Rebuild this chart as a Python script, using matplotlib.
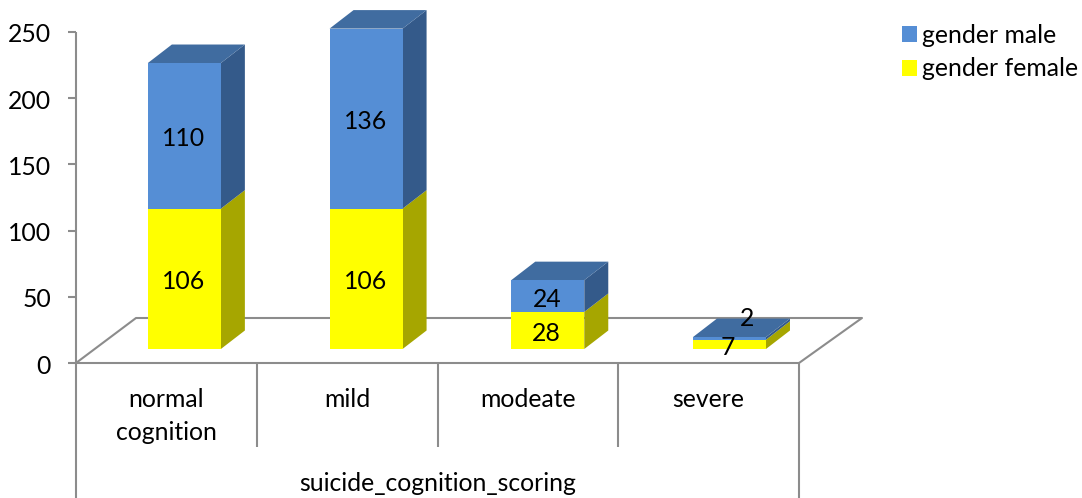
import matplotlib
matplotlib.use('Agg')
import matplotlib.pyplot as plt
from matplotlib.patches import Polygon, Patch

plt.rcParams['font.family'] = ['Lato', 'DejaVu Sans']

# data
categories = ['normal\ncognition', 'mild', 'modeate', 'severe']
female = [106, 106, 28, 7]
male = [110, 136, 24, 2]
yticks = [0, 50, 100, 150, 200, 250]
axis_title = 'suicide_cognition_scoring'

# colours
BLUE, BLUE_TOP, BLUE_SIDE = '#558ed5', '#406ca0', '#345a8a'
YELLOW, YELLOW_SIDE = '#ffff00', '#a6a600'
GREY = '#8c8c8c'
FS = 17.8

W, H = 1082, 498
fig = plt.figure(figsize=(W / 100, H / 100), dpi=100)
# axes box: x 76-799 px, y 32-363 px
ax = fig.add_axes([76 / W, (H - 363) / H, 723 / W, 331 / H])
ax.set_xlim(-0.5, 3.5)
ax.set_ylim(0, 250)
ax.axis('off')

# pixels to data units
ux = 4 / 723
uy = 250 / 331
lift = 14 * uy            # bars stand a bit in front of the floor edge
depth_x = 24 * ux
depth_y = 18.5 * uy
bar_w = 73 * ux
shift = 18 * ux
spacing = 181.7 * ux


def line(xs, ys, **kw):
    ax.plot(xs, ys, color=GREY, lw=1.5, clip_on=False, solid_capstyle='butt', **kw)


# floor
fx0, fx1 = -0.5 + 60 * ux, 3.5 + 63 * ux
fy = 45 * uy
line([-0.5, fx0, fx1, 3.5], [0, fy, fy, 0], zorder=1)
line([-0.5, 3.5], [0, 0], zorder=1)

# y axis
line([-0.5, -0.5], [0, 250], zorder=1)
for t in yticks:
    line([-0.5 - 8 * ux, -0.5], [t, t], zorder=1)
    ax.text(-0.5 - 25 * ux, t - 3 * uy, str(t), ha='right', va='center', fontsize=FS, color='black')

# category separators, the outer ones run to the figure bottom
line([-0.5, -0.5], [0, -135 * uy], zorder=1)
line([3.5, 3.5], [0, -135 * uy], zorder=1)
for x in [0.5, 1.5, 2.5]:
    line([x, x], [0, -84 * uy], zorder=1)

xpos = [i * spacing + shift for i in range(len(categories))]


def side_top(x, y0, y1, side, top=None):
    r = x + bar_w / 2
    l = x - bar_w / 2
    ax.add_patch(Polygon([(r, y0), (r + depth_x, y0 + depth_y), (r + depth_x, y1 + depth_y), (r, y1)],
                         fc=side, ec='none', zorder=3, clip_on=False))
    if top:
        ax.add_patch(Polygon([(l, y1), (l + depth_x, y1 + depth_y), (r + depth_x, y1 + depth_y), (r, y1)],
                             fc=top, ec='none', zorder=3, clip_on=False))


bars_f = ax.bar(xpos, female, bar_w, bottom=lift, color=YELLOW, zorder=4, clip_on=False)
bars_m = ax.bar(xpos, male, bar_w, bottom=[lift + f for f in female], color=BLUE, zorder=4, clip_on=False)

for x, f, m in zip(xpos, female, male):
    side_top(x, lift, lift + f, YELLOW_SIDE)
    side_top(x, lift + f, lift + f + m, BLUE_SIDE, BLUE_TOP)

# data labels
for i, (x, f, m) in enumerate(zip(xpos, female, male)):
    if i == 3:
        # small bar, labels pushed apart
        ax.text(x - 2 * ux, lift + f / 2 - 3 * uy, str(f), ha='center', va='center', fontsize=FS, zorder=6, clip_on=False)
        ax.text(x + 18 * ux, lift + f + m + 19 * uy, str(m), ha='center', va='center', fontsize=FS, zorder=6)
    else:
        ax.text(x - 1 * ux, lift + f / 2 - 3 * uy, str(f), ha='center', va='center', fontsize=FS, zorder=6, clip_on=False)
        ax.text(x - 1 * ux, lift + f + m / 2 - 3 * uy, str(m), ha='center', va='center', fontsize=FS, zorder=6, clip_on=False)

# category labels
for i, c in enumerate(categories):
    ax.text(i, -25 * uy, c, ha='center', va='top', fontsize=FS, linespacing=1.55, clip_on=False)
ax.text(1.5, -120 * uy, axis_title, ha='center', va='center', fontsize=FS, clip_on=False)

handles = [Patch(fc=BLUE, ec='none', label='gender male'), Patch(fc=YELLOW, ec='none', label='gender female')]
fig.legend(handles=handles, loc='upper left', bbox_to_anchor=(902 / W, 1 - 24 / H), frameon=False,
           fontsize=FS, handlelength=0.6, handleheight=0.6, handletextpad=0.2,
           labelspacing=0.42, borderaxespad=0, borderpad=0)

fig.savefig('out.png', dpi=100, facecolor='white')
